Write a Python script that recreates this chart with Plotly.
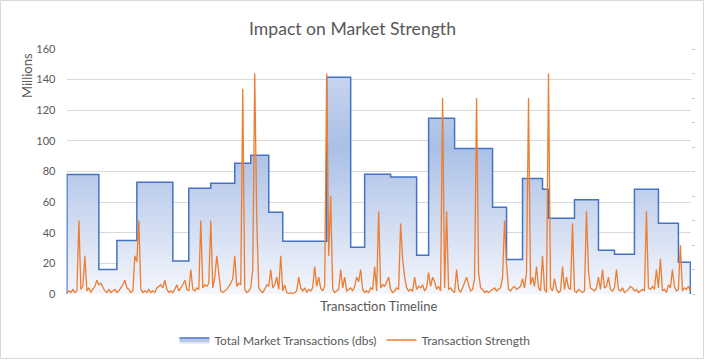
import plotly.graph_objects as go

# ---------------- data ----------------
# Step series: start index on the timeline and level (millions)
segment_start = [0, 16, 25, 35, 53, 61, 72, 84, 92, 101, 108, 130, 142, 149, 162,
                 175, 181, 194, 213, 220, 228, 238, 241, 254, 266, 274, 284, 296, 306]
segment_value = [78, 16, 35, 73, 21.5, 69, 72.3, 85.4, 90.6, 53.4, 34.4, 141.5, 30.5, 78.2, 76.4,
                 25.3, 114.7, 95.1, 56.6, 22.6, 75.5, 68.4, 49.4, 61.6, 28.5, 25.9, 68.4, 46.2, 20.7]
timeline_end = 312

# Transaction strength (millions), one value per timeline step
strength = [
    1, 2, 1, 3, 1, 2, 48, 3, 5, 25, 2, 4, 1, 3, 5, 9, 6, 7, 4, 2,
    1, 3, 1, 2, 3, 1, 2, 4, 6, 9, 4, 3, 1, 2, 25, 21, 48, 3, 1, 2,
    1, 3, 1, 2, 1, 4, 5, 6, 4, 9, 3, 1, 2, 1, 3, 6, 2, 4, 6, 9,
    3, 2, 16, 3, 2, 4, 3, 48, 4, 6, 5, 7, 48, 4, 11, 25, 11, 2, 1, 2,
    3, 5, 7, 10, 25, 5, 7, 6, 134, 3, 1, 2, 4, 16, 144, 48, 4, 2, 1, 3,
    6, 5, 16, 4, 6, 11, 3, 25, 2, 6, 1, 0, 1, 0, 1, 2, 11, 4, 2, 4,
    1, 3, 2, 4, 18, 5, 11, 4, 2, 5, 144, 25, 64, 3, 1, 2, 3, 16, 4, 11,
    2, 3, 4, 2, 5, 11, 8, 16, 3, 1, 2, 1, 4, 3, 18, 2, 54, 4, 6, 5,
    8, 11, 3, 1, 2, 4, 3, 46, 23, 11, 4, 2, 3, 2, 11, 3, 5, 4, 6, 2,
    4, 14, 5, 11, 8, 3, 5, 2, 128, 4, 54, 3, 4, 2, 1, 16, 3, 1, 4, 8,
    11, 6, 2, 3, 10, 128, 14, 4, 3, 1, 2, 1, 2, 3, 4, 2, 3, 4, 11, 48,
    19, 3, 2, 4, 5, 3, 4, 5, 10, 4, 14, 128, 6, 11, 5, 18, 4, 2, 25, 3,
    1, 144, 4, 2, 10, 3, 1, 2, 18, 3, 11, 4, 3, 46, 2, 1, 3, 2, 1, 2,
    54, 15, 4, 3, 2, 4, 11, 3, 16, 4, 5, 11, 3, 2, 4, 16, 3, 2, 4, 1,
    2, 3, 5, 4, 2, 3, 1, 2, 3, 2, 54, 4, 3, 5, 3, 16, 4, 23, 2, 3,
    1, 6, 4, 16, 5, 2, 3, 32, 2, 4, 3, 5, 2,
]
timeline = list(range(len(strength)))

y_ticks = [0, 20, 40, 60, 80, 100, 120, 140, 160]

# ---------------- figure ----------------
W, H = 705, 360


def fx(p):
    return p / W


def fy(p):
    return 1 - p / H


step_x = [segment_start[0]] + segment_start + [timeline_end, timeline_end]
step_y = [0] + segment_value + [segment_value[-1], 0]

fig = go.Figure()
fig.add_trace(go.Scatter(
    x=step_x, y=step_y, mode="lines",
    name="Total Market Transactions (dbs)",
    line=dict(shape="hv", color="#4472c4", width=1.5),
    fill="tozeroy",
    fillgradient=dict(type="vertical",
                      colorscale=[[0, "#f4f6fc"], [0.6, "#aac0e6"], [1, "#d2ddf2"]],
                      start=0, stop=160),
))
fig.add_trace(go.Scatter(
    x=timeline, y=strength, mode="lines",
    name="Transaction Strength",
    line=dict(color="#ed7d31", width=1.3),
))
fig.add_trace(go.Scatter(x=[], y=[], yaxis="y2", showlegend=False, hoverinfo="skip"))

fig.update_layout(
    width=W, height=H,
    margin=dict(l=0, r=0, t=0, b=0, autoexpand=False),
    paper_bgcolor="white", plot_bgcolor="white",
    font=dict(family="Lato, sans-serif", color="#595959", size=12),
    title=dict(text="Impact on Market Strength", x=0.5, xanchor="center",
               y=fy(29), yanchor="middle", font=dict(size=17.6, color="#595959")),
    xaxis=dict(domain=[fx(66.5), fx(691)], range=[-0.2, 312.3], automargin=False,
               showticklabels=False, showgrid=False, zeroline=False, showline=False, ticks="",
               title=dict(text="Transaction Timeline", standoff=7, font=dict(size=13))),
    yaxis=dict(domain=[fy(294), fy(49)], range=[0, 160], tickvals=y_ticks, automargin=False,
               showgrid=True, gridcolor="#d9d9d9", gridwidth=1,
               zeroline=False, showline=False, ticks="", ticklabelstandoff=10,
               tickfont=dict(size=11, color="#595959")),
    yaxis2=dict(overlaying="y", side="right", anchor="x", range=[0, 10], dtick=1, automargin=False,
                ticks="outside", ticklen=3, tickcolor="#c8c8c8",
                showticklabels=False, showgrid=False, zeroline=False, showline=False),
    legend=dict(orientation="h", x=fx(355), xanchor="center", y=fy(340), yanchor="middle",
                font=dict(size=12, color="#595959"), traceorder="normal"),
    showlegend=True,
    annotations=[dict(text="Millions", x=fx(27), y=fy(76), xref="paper", yref="paper",
                      xanchor="center", yanchor="middle",
                      textangle=-90, showarrow=False, font=dict(size=13, color="#595959"))],
    shapes=[dict(type="rect", xref="paper", yref="paper",
                 x0=fx(0.5), x1=fx(703.5), y0=fy(358.5), y1=fy(0.5),
                 line=dict(color="#d9d9d9", width=1))],
)

fig.write_html("out.html", config={"displayModeBar": False},
               post_script="document.body.style.margin='0';")
